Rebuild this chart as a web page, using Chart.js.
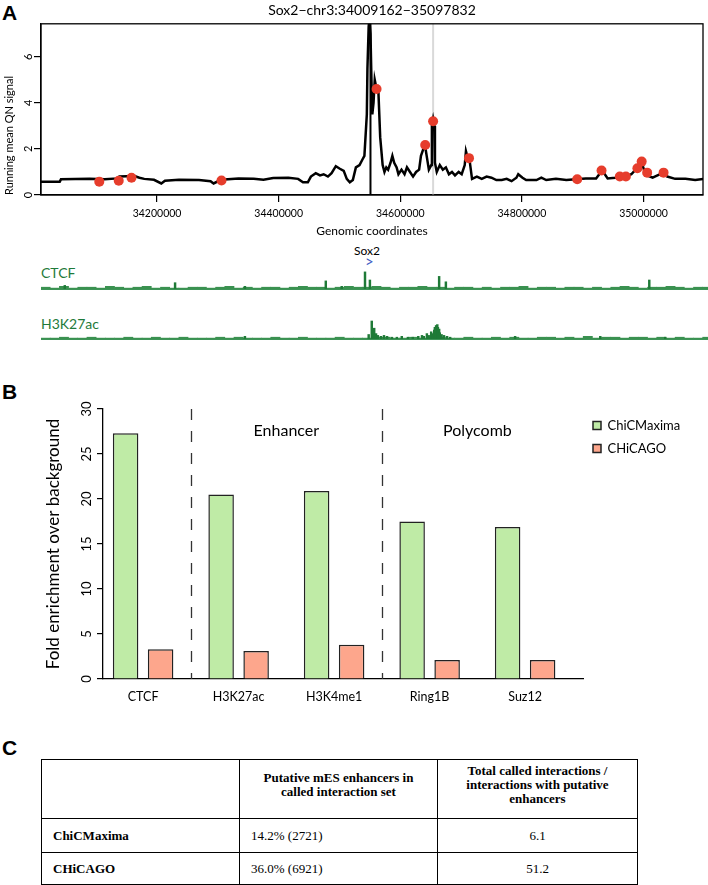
<!DOCTYPE html>
<html>
<head>
<meta charset="utf-8">
<script src="https://cdn.jsdelivr.net/npm/chart.js@4.4.1/dist/chart.umd.min.js"></script>
<style>
  body { margin: 0; width: 708px; height: 885px; background: #fff; position: relative; overflow: hidden; font-family: Lato, sans-serif; }
  canvas { position: absolute; left: 0; }
  .panel { position: absolute; left: 2px; font-family: "Liberation Sans", Arial, sans-serif; font-weight: bold; font-size: 21px; line-height: 1; }
  .lbl { position: absolute; white-space: nowrap; line-height: 1; }
  #results { position: absolute; left: 41px; top: 759px; width: 596px; border-collapse: collapse; table-layout: fixed;
             font-family: "Liberation Serif", "Times New Roman", serif; font-size: 13px; }
  #results td { border: 1.5px solid #000; padding: 0 11px; line-height: 14px; }
  #results .hd { font-weight: bold; text-align: center; vertical-align: middle; padding-bottom: 8px; }
  #results .rl { font-weight: bold; }
  #results .c { text-align: center; }
</style>
</head>
<body>

<div class="panel" style="top:2px">A</div>
<canvas id="signalChart" width="708" height="240" style="top:0"></canvas>
<div class="lbl" style="left:354px; top:245px; font-size:12px">Sox2</div>
<div class="lbl" style="left:365px; top:254px; font-size:15px; color:#3f5fc4">&gt;</div>
<div class="lbl" style="left:41px; top:266px; font-size:14px; color:#1e7a3a">CTCF</div>
<canvas id="ctcfTrack" width="708" height="30" style="top:262px"></canvas>
<div class="lbl" style="left:41px; top:317px; font-size:14px; color:#1e7a3a">H3K27ac</div>
<canvas id="k27Track" width="708" height="30" style="top:312px"></canvas>

<div class="panel" style="top:381px">B</div>
<canvas id="enrichChart" width="708" height="320" style="top:395px"></canvas>

<div class="panel" style="top:737px">C</div>
<table id="results"></table>

<script>
// ==========================
// DATA
// ==========================

// panel A: region and running mean signal (positions in kb)
const regionStart = 34009162;
const regionEnd = 35097832;
const sox2Kb = 34551;
const highlightKb = 34654;

const signalPosKb = [
  34009, 34040, 34042, 34089, 34114, 34135, 34138, 34163, 34171, 34179,
  34195, 34207, 34213, 34236, 34269, 34288, 34293, 34305, 34334, 34359,
  34375, 34391, 34416, 34432, 34440, 34448, 34453, 34461, 34468, 34474,
  34481, 34487, 34494, 34500, 34507, 34512, 34517, 34522, 34527, 34533,
  34538, 34541, 34545, 34546, 34548, 34549, 34551, 34553, 34554, 34556,
  34558, 34561, 34564, 34567, 34571, 34574, 34577, 34580, 34584, 34587,
  34590, 34594, 34597, 34602, 34607, 34611, 34616, 34621, 34626, 34631,
  34634, 34638, 34641, 34644, 34647, 34651, 34652, 34654, 34656, 34657,
  34660, 34665, 34670, 34675, 34680, 34685, 34690, 34696, 34701, 34706,
  34708, 34711, 34714, 34718, 34726, 34734, 34742, 34750, 34758, 34767,
  34775, 34783, 34791, 34794, 34801, 34807, 34824, 34832, 34840, 34856,
  34873, 34889, 34905, 34922, 34930, 34935, 34941, 34954, 34961, 34971,
  34980, 34987, 34992, 34997, 35002, 35006, 35015, 35023, 35031, 35039,
  35052, 35069, 35085, 35098
];
const signalVal = [
  0.58, 0.58, 0.68, 0.70, 0.68, 0.72, 0.80, 0.82, 0.75, 0.70,
  0.66, 0.50, 0.62, 0.66, 0.65, 0.60, 0.50, 0.66, 0.72, 0.70,
  0.66, 0.74, 0.75, 0.70, 0.55, 0.55, 0.80, 0.95, 0.85, 0.90,
  0.80, 0.95, 1.25, 1.15, 1.05, 0.70, 0.55, 0.65, 1.20, 1.30,
  1.55, 1.70, 3.50, 5.50, 7.30, 7.60, 7.00, 4.50, 3.50, 4.00,
  5.00, 4.60, 4.50, 2.50, 1.30, 1.00, 1.20, 1.10, 1.40, 1.70,
  1.40, 1.20, 0.90, 1.10, 0.90, 1.20, 1.00, 0.80, 1.00, 1.10,
  1.70, 2.00, 2.10, 1.60, 1.10, 1.30, 3.00, 3.30, 3.00, 1.40,
  1.00, 1.30, 1.10, 1.20, 0.90, 1.00, 0.85, 1.00, 0.90, 1.30,
  1.90, 1.60, 1.50, 0.70, 0.80, 0.70, 0.80, 0.75, 0.65, 0.65,
  0.70, 0.60, 0.75, 0.90, 0.75, 0.65, 0.65, 0.75, 0.65, 0.70,
  0.65, 0.68, 0.72, 0.72, 1.00, 0.95, 0.72, 0.75, 0.78, 0.80,
  0.90, 1.10, 1.25, 1.40, 1.00, 0.85, 0.75, 0.85, 0.95, 0.80,
  0.70, 0.70, 0.65, 0.70
];

// interacting fragments (red points)
const dotPosKb = [34105, 34137, 34158, 34306, 34561, 34641, 34654, 34713, 34891, 34931, 34961, 34971, 34990, 34997, 35006, 35033];
const dotVal = [0.58, 0.62, 0.75, 0.63, 4.6, 2.17, 3.2, 1.6, 0.68, 1.06, 0.8, 0.8, 1.16, 1.45, 0.97, 0.97];

const xTickValues = [34200000, 34400000, 34600000, 34800000, 35000000];

// ChIP tracks: peaks (kb, height) and 15 kb background bins
const ctcfPeakPosKb = [34048, 34228, 34342, 34474, 34500, 34538, 34546, 34659, 34670, 35002];
const ctcfPeakVal = [4, 7, 3, 9, 3, 19, 10, 14, 8, 10];
const k27PeakPosKb = [34342, 34544, 34549, 34553, 34556, 34559, 34564, 34569, 34574, 34582,
  34590, 34598, 34608, 34616, 34625, 34631, 34634, 34639, 34642, 34646,
  34649, 34651, 34652, 34654, 34656, 34657, 34659, 34660, 34663, 34667,
  34672, 34677, 34783, 34922, 35028];
const k27PeakVal = [3, 5, 20, 12, 6, 4, 3, 4, 3, 2,
  2, 3, 2, 2, 3, 4, 3, 6, 4, 8,
  6, 10, 13, 15, 16, 13, 11, 7, 5, 4,
  3, 2, 3, 3, 2];
const binKb = 15;
const ctcfNoise = [2,1,3,1,2,2,1,3,2,1,2,3,1,2,1,1,2,2,1,2,3,1,2,1,2,2,1,2,3,2,2,1,2,3,2,2,3,2,1,2,2,3,2,2,1,2,2,1,2,1,2,2,3,1,2,2,1,2,2,1,2,1,2,3,2,1,2,2,3,2,1,2,2];
const k27Noise = [1,1,2,1,1,2,1,1,1,2,1,1,2,1,1,2,1,1,1,2,1,2,1,1,1,2,1,1,2,1,1,1,2,1,1,1,2,2,1,1,2,1,2,2,1,1,2,1,1,2,1,2,1,1,2,2,1,2,1,3,1,2,2,1,2,2,1,2,1,2,1,1,2];

// panel B: fold enrichment
const marks = ['CTCF', 'H3K27ac', 'H3K4me1', 'Ring1B', 'Suz12'];
const maximaFold = [27.3, 20.5, 20.9, 17.5, 16.9];
const chicagoFold = [3.3, 3.1, 3.8, 2.1, 2.1];
const groupNames = ['Enhancer', 'Polycomb'];
const groupAt = [1.5, 3.5];
const dividerAt = [0.5, 2.5];

// panel C: table
const tableHeader = ['', 'Putative mES enhancers in<br>called interaction set', 'Total called interactions /<br>interactions with putative<br>enhancers'];
const tableMethods = ['ChiCMaxima', 'CHiCAGO'];
const tableEnhancers = ['14.2% (2721)', '36.0% (6921)'];
const tableRatio = ['6.1', '51.2'];


Chart.defaults.font.family = "Lato, 'DejaVu Sans', sans-serif";
Chart.defaults.color = '#000';

// y tick labels written bottom-to-top, like R's default
const rotatedYTicks = {
  id: 'rotatedYTicks',
  afterDraw(chart, args, opts) {
    const { ctx, scales: { y } } = chart;
    ctx.save();
    ctx.fillStyle = '#000';
    ctx.font = opts.size + 'px Lato, sans-serif';
    ctx.textAlign = 'center';
    ctx.textBaseline = 'middle';
    y.ticks.forEach(t => {
      ctx.save();
      ctx.translate(opts.x, y.getPixelForValue(t.value));
      ctx.rotate(-Math.PI / 2);
      ctx.fillText(String(t.value), 0, 0);
      ctx.restore();
    });
    ctx.restore();
  }
};

// ==========================
// PANEL A - SIGNAL
// ==========================

const frameBox = {
  id: 'frameBox',
  afterDraw(chart) {
    const { ctx, chartArea: a } = chart;
    ctx.save();
    ctx.strokeStyle = '#000';
    ctx.lineWidth = 1.3;
    ctx.strokeRect(a.left, a.top, a.right - a.left, a.bottom - a.top);
    ctx.restore();
  }
};

const markerLines = {
  id: 'markerLines',
  beforeDatasetsDraw(chart) {
    const { ctx, chartArea: a, scales: { x } } = chart;
    ctx.save();
    ctx.lineWidth = 2;
    ctx.strokeStyle = '#d9d9d9';
    let px = x.getPixelForValue(highlightKb * 1000);
    ctx.beginPath(); ctx.moveTo(px, a.top); ctx.lineTo(px, a.bottom); ctx.stroke();
    ctx.strokeStyle = '#000';
    px = x.getPixelForValue(sox2Kb * 1000);
    ctx.beginPath(); ctx.moveTo(px, a.top); ctx.lineTo(px, a.bottom); ctx.stroke();
    ctx.restore();
  }
};

new Chart(document.getElementById('signalChart'), {
    type: 'scatter',
    data: {
        datasets: [
            {
                label: 'Interactions',
                data: dotPosKb.map((p, i) => ({ x: p * 1000, y: dotVal[i] })),
                pointRadius: 5,
                pointBackgroundColor: '#e63d2c',
                pointBorderWidth: 0
            },
            {
                label: 'Running mean',
                data: signalPosKb.map((p, i) => ({ x: p * 1000, y: signalVal[i] })),
                showLine: true,
                borderColor: '#000',
                borderWidth: 2.5,
                pointRadius: 0,
                tension: 0
            }
        ]
    },
    options: {
        responsive: false,
        animation: false,
        layout: { padding: 0 },
        plugins: {
            legend: { display: false },
            tooltip: { enabled: false },
            rotatedYTicks: { x: 28, size: 11 },
            title: {
                display: true,
                fullSize: false,
                text: 'Sox2\u2212chr3:34009162\u221235097832',
                font: { size: 14, weight: 'normal' },
                padding: { top: 2, bottom: 5 }
            }
        },
        scales: {
            x: {
                type: 'linear',
                min: regionStart,
                max: regionEnd,
                afterBuildTicks: ax => { ax.ticks = xTickValues.map(v => ({ value: v })); },
                ticks: { autoSkip: false, maxRotation: 0, padding: 5.5, font: { size: 10.5 }, callback: v => String(v) },
                grid: { drawOnChartArea: false, tickLength: 7, color: '#000', lineWidth: 1.2 },
                border: { color: '#000', width: 1.2 },
                title: { display: true, text: 'Genomic coordinates', font: { size: 12 }, padding: { top: 0, bottom: 2 } },
                afterFit: ax => { ax.height = 45; }
            },
            y: {
                min: 0,
                max: 7.43,
                ticks: { stepSize: 2, includeBounds: false, display: false },
                grid: { drawOnChartArea: false, tickLength: 7, color: '#000', lineWidth: 1.2 },
                border: { color: '#000', width: 1.2 },
                title: { display: true, text: 'Running mean QN signal', align: 'start', font: { size: 11 }, padding: { top: 3, bottom: 0 } },
                afterFit: ax => { ax.width = 41; }
            }
        }
    },
    plugins: [markerLines, frameBox, rotatedYTicks]
});

// ==========================
// PANEL A - TRACKS
// ==========================

function drawTrack(id, peakPos, peakVal, noise) {
    const noiseData = noise.map((v, i) => ({ x: (regionStart / 1000 + (i + 0.5) * binKb) * 1000, y: v }));
    new Chart(document.getElementById(id), {
        type: 'bar',
        data: {
            datasets: [
                { data: peakPos.map((p, i) => ({ x: p * 1000, y: peakVal[i] })), backgroundColor: '#1f7a37', barThickness: 1.8, grouped: false },
                { data: noiseData, backgroundColor: '#3a9150', barThickness: 9.2, grouped: false }
            ]
        },
        options: {
            responsive: false,
            animation: false,
            layout: { padding: { left: 41, top: 0, right: 0, bottom: 0 } },
            plugins: { legend: { display: false }, tooltip: { enabled: false } },
            scales: {
                x: {
                    type: 'linear', min: regionStart, max: regionEnd, offset: false,
                    ticks: { display: false },
                    grid: { drawOnChartArea: false, drawTicks: false, offset: false },
                    border: { color: '#3d9457', width: 1 },
                    afterFit: ax => { ax.height = 3; }
                },
                y: { display: false, min: 0, max: 30 }
            }
        }
    });
}

drawTrack('ctcfTrack', ctcfPeakPosKb, ctcfPeakVal, ctcfNoise);
drawTrack('k27Track', k27PeakPosKb, k27PeakVal, k27Noise);

// ==========================
// PANEL B - BARS
// ==========================

const legendWidth = {
  id: 'legendWidth',
  beforeLayout(chart) {
    const lg = chart.legend;
    if (lg && !lg._fixedWidth) {
      const fit = lg.fit.bind(lg);
      lg.fit = function () { fit(); this.width = 125; };
      lg._fixedWidth = true;
    }
  }
};

const groupMarks = {
  id: 'groupMarks',
  afterDatasetsDraw(chart) {
    const { ctx, scales: { x, y } } = chart;
    ctx.save();
    ctx.strokeStyle = '#333';
    ctx.lineWidth = 1.3;
    ctx.setLineDash([11, 11]);
    dividerAt.forEach(v => {
      const px = Math.round(x.getPixelForValue(v)) + 0.5;
      ctx.beginPath();
      ctx.moveTo(px, y.getPixelForValue(30));
      ctx.lineTo(px, y.getPixelForValue(0));
      ctx.stroke();
    });
    ctx.setLineDash([]);
    ctx.fillStyle = '#000';
    ctx.font = "16px Lato, sans-serif";
    ctx.textAlign = 'center';
    ctx.textBaseline = 'middle';
    groupNames.forEach((g, i) => ctx.fillText(g, x.getPixelForValue(groupAt[i]), y.getPixelForValue(27.6)));
    ctx.restore();
  }
};

new Chart(document.getElementById('enrichChart'), {
    type: 'bar',
    data: {
        datasets: [
            {
                label: 'ChiCMaxima',
                data: maximaFold.map((v, i) => ({ x: i, y: v })),
                backgroundColor: '#bfeba6',
                borderColor: '#222',
                borderWidth: 1.5,
                categoryPercentage: 0.733,
                barPercentage: 0.729
            },
            {
                label: 'CHiCAGO',
                data: chicagoFold.map((v, i) => ({ x: i, y: v })),
                backgroundColor: '#fda68c',
                borderColor: '#222',
                borderWidth: 1.5,
                categoryPercentage: 0.733,
                barPercentage: 0.729
            }
        ]
    },
    options: {
        responsive: false,
        animation: false,
        layout: { padding: { top: 14, right: 0, bottom: 0, left: 0 } },
        plugins: {
            tooltip: { enabled: false },
            rotatedYTicks: { x: 87, size: 13 },
            legend: {
                position: 'right',
                align: 'start',
                labels: { boxWidth: 8, boxHeight: 8, padding: 10, font: { size: 13 } }
            }
        },
        scales: {
            x: {
                type: 'linear',
                min: -0.42,
                max: 4.606,
                offset: false,
                afterBuildTicks: ax => { ax.ticks = marks.map((m, i) => ({ value: i })); },
                ticks: { autoSkip: false, maxRotation: 0, padding: 10.5, font: { size: 12.5 }, callback: v => marks[v] },
                grid: { drawOnChartArea: false, drawTicks: false, offset: false },
                border: { color: '#000', width: 1.3 },
                afterFit: ax => { ax.height = 36; }
            },
            y: {
                min: 0,
                max: 30,
                ticks: { stepSize: 5, display: false },
                grid: { drawOnChartArea: false, tickLength: 6, color: '#000', lineWidth: 1.2 },
                border: { color: '#000', width: 1.3 },
                title: { display: true, text: 'Fold enrichment over background', font: { size: 17 }, padding: { top: 43, bottom: 0 } },
                afterFit: ax => { ax.width = 103; }
            }
        }
    },
    plugins: [legendWidth, groupMarks, rotatedYTicks]
});

// ==========================
// PANEL C - TABLE
// ==========================

const table = document.getElementById('results');
let html = '<colgroup><col style="width:198px"><col style="width:198px"><col style="width:200px"></colgroup>';
html += '<tr style="height:59px">' + tableHeader.map(h => '<td class="hd">' + h + '</td>').join('') + '</tr>';
tableMethods.forEach((m, i) => {
    html += '<tr style="height:' + (i === 0 ? 34 : 32) + 'px"><td class="rl">' + m + '</td><td>' + tableEnhancers[i] + '</td><td class="c">' + tableRatio[i] + '</td></tr>';
});
table.innerHTML = html;
</script>
</body>
</html>
